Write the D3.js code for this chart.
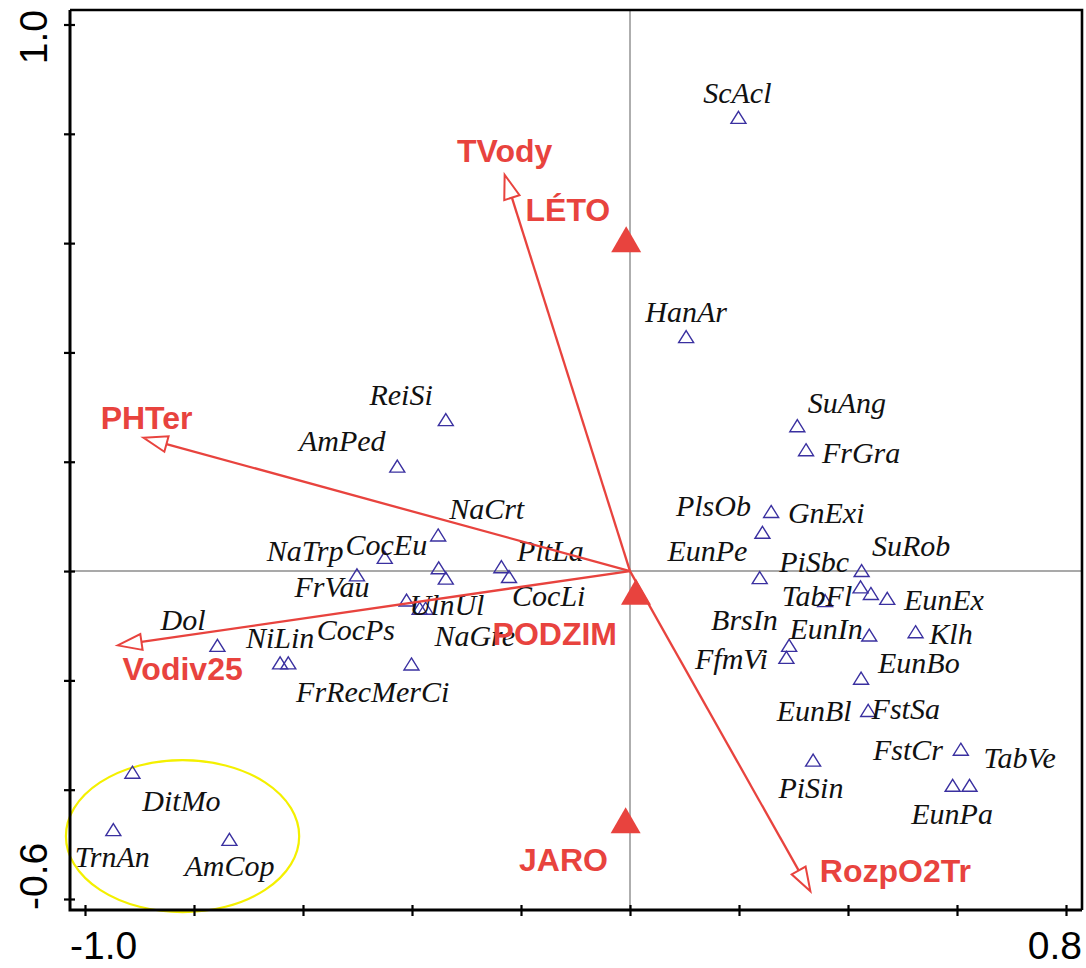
<!DOCTYPE html>
<html>
<head>
<meta charset="utf-8">
<script src="https://cdn.jsdelivr.net/npm/d3@7"></script>
<style>
  body { margin: 0; background: #ffffff; }
  svg { display: block; }
</style>
</head>
<body>
<svg id="chart" width="1086" height="968"></svg>
<script>
// ---- Species scores (axis 1, axis 2) ----
const speciesX = [
  -0.338, -0.427, -0.352, -0.450, -0.501, -0.351, -0.338, -0.410, -0.386, -0.375,
  -0.236, -0.222, -0.757, -0.642, -0.627, -0.401, -0.913, -0.948, -0.735,
   0.199,  0.103,  0.307,  0.323,  0.259,  0.243,  0.238,  0.425,  0.423,  0.442,
   0.472,  0.358,  0.439,  0.524,  0.292,  0.287,  0.424,  0.437,  0.336,  0.607,
   0.592,  0.623
];
const speciesY = [
   0.277,  0.192,  0.066,  0.025, -0.007,  0.006, -0.013, -0.053, -0.068, -0.068,
   0.008, -0.010, -0.136, -0.168, -0.168, -0.170, -0.368, -0.473, -0.491,
   0.830,  0.429,  0.266,  0.222,  0.109,  0.071, -0.012,  0.001, -0.029, -0.041,
  -0.050, -0.054, -0.117, -0.111, -0.136, -0.158, -0.196, -0.255, -0.346, -0.326,
  -0.392, -0.392
];

// ---- Species labels and their anchor points ----
const labelText = [
  "ScAcl", "HanAr", "ReiSi", "AmPed", "SuAng", "FrGra", "PlsOb", "GnExi", "EunPe", "PiSbc",
  "SuRob", "TabFl", "EunEx", "BrsIn", "EunIn", "Klh", "FfmVi", "EunBo", "EunBl", "FstSa",
  "FstCr", "TabVe", "PiSin", "EunPa", "NaCrt", "PltLa", "CocLi", "NaGre", "UlnUl", "CocEu",
  "NaTrp", "FrVau", "Dol", "NiLin", "CocPs", "FrRecMerCi", "DitMo", "TrnAn", "AmCop"
];
const labelX = [
   0.197,  0.103, -0.420, -0.528,  0.398,  0.424,  0.153,  0.360,  0.142,  0.338,
   0.516,  0.343,  0.576,  0.210,  0.360,  0.589,  0.186,  0.530,  0.338,  0.506,
   0.510,  0.715,  0.332,  0.591, -0.263, -0.146, -0.149, -0.285, -0.336, -0.447,
  -0.596, -0.547, -0.820, -0.642, -0.503, -0.472, -0.823, -0.950, -0.735
];
const labelY = [
   0.875,  0.474,  0.322,  0.238,  0.308,  0.216,  0.119,  0.106,  0.037,  0.016,
   0.046, -0.046, -0.053, -0.090, -0.106, -0.115, -0.161, -0.168, -0.256, -0.253,
  -0.328, -0.342, -0.397, -0.445,  0.114,  0.037, -0.046, -0.119, -0.062,  0.048,
   0.037, -0.029, -0.090, -0.123, -0.108, -0.222, -0.421, -0.524, -0.540
];

// ---- Environmental variables (arrow tips) ----
const envNames = ["TVody", "PHTer", "Vodiv25", "RozpO2Tr"];
const envX = [-0.230, -0.893, -0.940, 0.331];
const envY = [ 0.725,  0.244, -0.136, -0.586];
const envLabelX = [-0.230, -0.887, -0.821, 0.487];
const envLabelY = [ 0.769,  0.280, -0.178, -0.549];

// ---- Season centroids ----
const seasonNames = ["LÉTO", "PODZIM", "JARO"];
const seasonX = [-0.007, 0.011, -0.008];
const seasonY = [ 0.607, -0.038, -0.456];
const seasonLabelX = [-0.114, -0.138, -0.122];
const seasonLabelY = [ 0.661, -0.114, -0.529];

// ---- Highlighted group (ellipse centre and radii, axis units) ----
const groupEllipse = { cx: -0.821, cy: -0.485, rx: 0.214, ry: 0.139 };

// ---- Axes ----
const xTickValues = [-1.0, -0.8, -0.6, -0.4, -0.2, 0.0, 0.2, 0.4, 0.6, 0.8];
const yTickValues = [-0.6, -0.4, -0.2, 0.0, 0.2, 0.4, 0.6, 0.8, 1.0];
const xTickLabelValues = [-1.0, 0.8];
const xTickLabels = ["-1.0", "0.8"];
const yTickLabelValues = [-0.6, 1.0];
const yTickLabels = ["-0.6", "1.0"];

// ---- Layout ----
const frame = { left: 70, right: 1082, top: 10, bottom: 910 };
const RED = "#e8433e";
const BLUE = "#3a30a0";

const svg = d3.select("#chart");

const x = d3.scaleLinear().domain([-1.0, 0.8]).range([85, 1066]);
const y = d3.scaleLinear().domain([-0.6, 1.0]).range([899, 24.5]);

// zero lines
svg.append("line")
  .attr("x1", x(0)).attr("x2", x(0))
  .attr("y1", frame.top).attr("y2", frame.bottom)
  .attr("stroke", "#8c8c8c").attr("stroke-width", 1.4);
svg.append("line")
  .attr("x1", frame.left).attr("x2", frame.right)
  .attr("y1", y(0)).attr("y2", y(0))
  .attr("stroke", "#8c8c8c").attr("stroke-width", 1.4);

// highlighted group
svg.append("ellipse")
  .attr("cx", x(groupEllipse.cx)).attr("cy", y(groupEllipse.cy))
  .attr("rx", x(groupEllipse.rx) - x(0)).attr("ry", y(0) - y(groupEllipse.ry))
  .attr("fill", "none").attr("stroke", "#f4f000").attr("stroke-width", 2.2);

// species symbols
const species = speciesX.map((v, i) => ({ x: v, y: speciesY[i] }));
svg.append("g").selectAll("path")
  .data(species).join("path")
  .attr("d", d => {
    const cx = x(d.x), cy = y(d.y);
    return `M${cx},${cy - 6}L${cx + 7.5},${cy + 6}L${cx - 7.5},${cy + 6}Z`;
  })
  .attr("fill", "none").attr("stroke", BLUE).attr("stroke-width", 1.4);

// species labels
const labels = labelText.map((t, i) => ({ t, x: labelX[i], y: labelY[i] }));
svg.append("g").selectAll("text")
  .data(labels).join("text")
  .attr("x", d => x(d.x)).attr("y", d => y(d.y))
  .attr("dy", "0.33em")
  .attr("text-anchor", "middle")
  .attr("font-family", "'Liberation Serif', 'Times New Roman', serif")
  .attr("font-style", "italic")
  .attr("font-size", 30)
  .attr("fill", "#111")
  .text(d => d.t);

// environmental arrows
const env = envNames.map((n, i) => ({ n, x: envX[i], y: envY[i], lx: envLabelX[i], ly: envLabelY[i] }));
const headLen = 24, headHalf = 8;
const ox = x(0), oy = y(0);
const arrows = svg.append("g");
env.forEach(d => {
  const tx = x(d.x), ty = y(d.y);
  const len = Math.hypot(tx - ox, ty - oy);
  const ux = (tx - ox) / len, uy = (ty - oy) / len;
  const bx = tx - ux * headLen, by = ty - uy * headLen;
  const nx = -uy, ny = ux;
  arrows.append("line")
    .attr("x1", ox).attr("y1", oy).attr("x2", bx).attr("y2", by)
    .attr("stroke", RED).attr("stroke-width", 2.3);
  arrows.append("path")
    .attr("d", `M${tx},${ty}L${bx + nx * headHalf},${by + ny * headHalf}L${bx - nx * headHalf},${by - ny * headHalf}Z`)
    .attr("fill", "#fff").attr("stroke", RED).attr("stroke-width", 2);
});

// season centroids
const seasons = seasonNames.map((n, i) => ({ n, x: seasonX[i], y: seasonY[i], lx: seasonLabelX[i], ly: seasonLabelY[i] }));
svg.append("g").selectAll("path")
  .data(seasons).join("path")
  .attr("d", d => {
    const cx = x(d.x), cy = y(d.y);
    return `M${cx},${cy - 13}L${cx + 15},${cy + 13}L${cx - 15},${cy + 13}Z`;
  })
  .attr("fill", RED);

// red labels for variables and seasons
svg.append("g").selectAll("text")
  .data([...env, ...seasons]).join("text")
  .attr("x", d => x(d.lx)).attr("y", d => y(d.ly))
  .attr("dy", "0.35em")
  .attr("text-anchor", "middle")
  .attr("font-family", "'Liberation Sans', Arial, sans-serif")
  .attr("font-weight", "bold")
  .attr("font-size", 32)
  .attr("fill", RED)
  .text(d => d.n);

// frame
svg.append("path")
  .attr("d", `M${frame.left},${frame.top}H${frame.right}V${frame.bottom}`)
  .attr("fill", "none").attr("stroke", "#000").attr("stroke-width", 2.6);
svg.append("path")
  .attr("d", `M${frame.left},${frame.top}V${frame.bottom}H${frame.right}`)
  .attr("fill", "none").attr("stroke", "#000").attr("stroke-width", 3);

// axes: ticks cross the frame line, end labels kept inside the frame extent
const xAxis = svg.append("g")
  .attr("transform", `translate(0,${frame.bottom})`)
  .call(d3.axisBottom(x).tickValues(xTickValues).tickFormat("").tickSizeOuter(0));
xAxis.select(".domain").remove();
xAxis.selectAll(".tick line").attr("y1", -5).attr("y2", 6).attr("stroke", "#000").attr("stroke-width", 2.2);

const yAxis = svg.append("g")
  .attr("transform", `translate(${frame.left},0)`)
  .call(d3.axisLeft(y).tickValues(yTickValues).tickFormat("").tickSizeOuter(0));
yAxis.select(".domain").remove();
yAxis.selectAll(".tick line").attr("x1", 5).attr("x2", -6).attr("stroke", "#000").attr("stroke-width", 2.2);

const tickFont = { family: "'Liberation Sans', Arial, sans-serif", size: 39 };

xTickLabelValues.forEach((v, i) => {
  const t = svg.append("text")
    .attr("y", 959)
    .attr("font-family", tickFont.family).attr("font-size", tickFont.size)
    .attr("fill", "#000")
    .text(xTickLabels[i]);
  const w = t.node().getComputedTextLength();
  let left = x(v) - w / 2;
  left = Math.max(frame.left, Math.min(frame.right - w, left));
  t.attr("x", left);
});

yTickLabelValues.forEach((v, i) => {
  const t = svg.append("text")
    .attr("font-family", tickFont.family).attr("font-size", tickFont.size)
    .attr("fill", "#000")
    .text(yTickLabels[i]);
  const w = t.node().getComputedTextLength();
  // rotated text runs upward: its start is the lower end
  let bottom = y(v) + w / 2;
  bottom = Math.min(frame.bottom, Math.max(frame.top + w, bottom));
  t.attr("transform", `translate(47,${bottom}) rotate(-90)`);
});
</script>
</body>
</html>
